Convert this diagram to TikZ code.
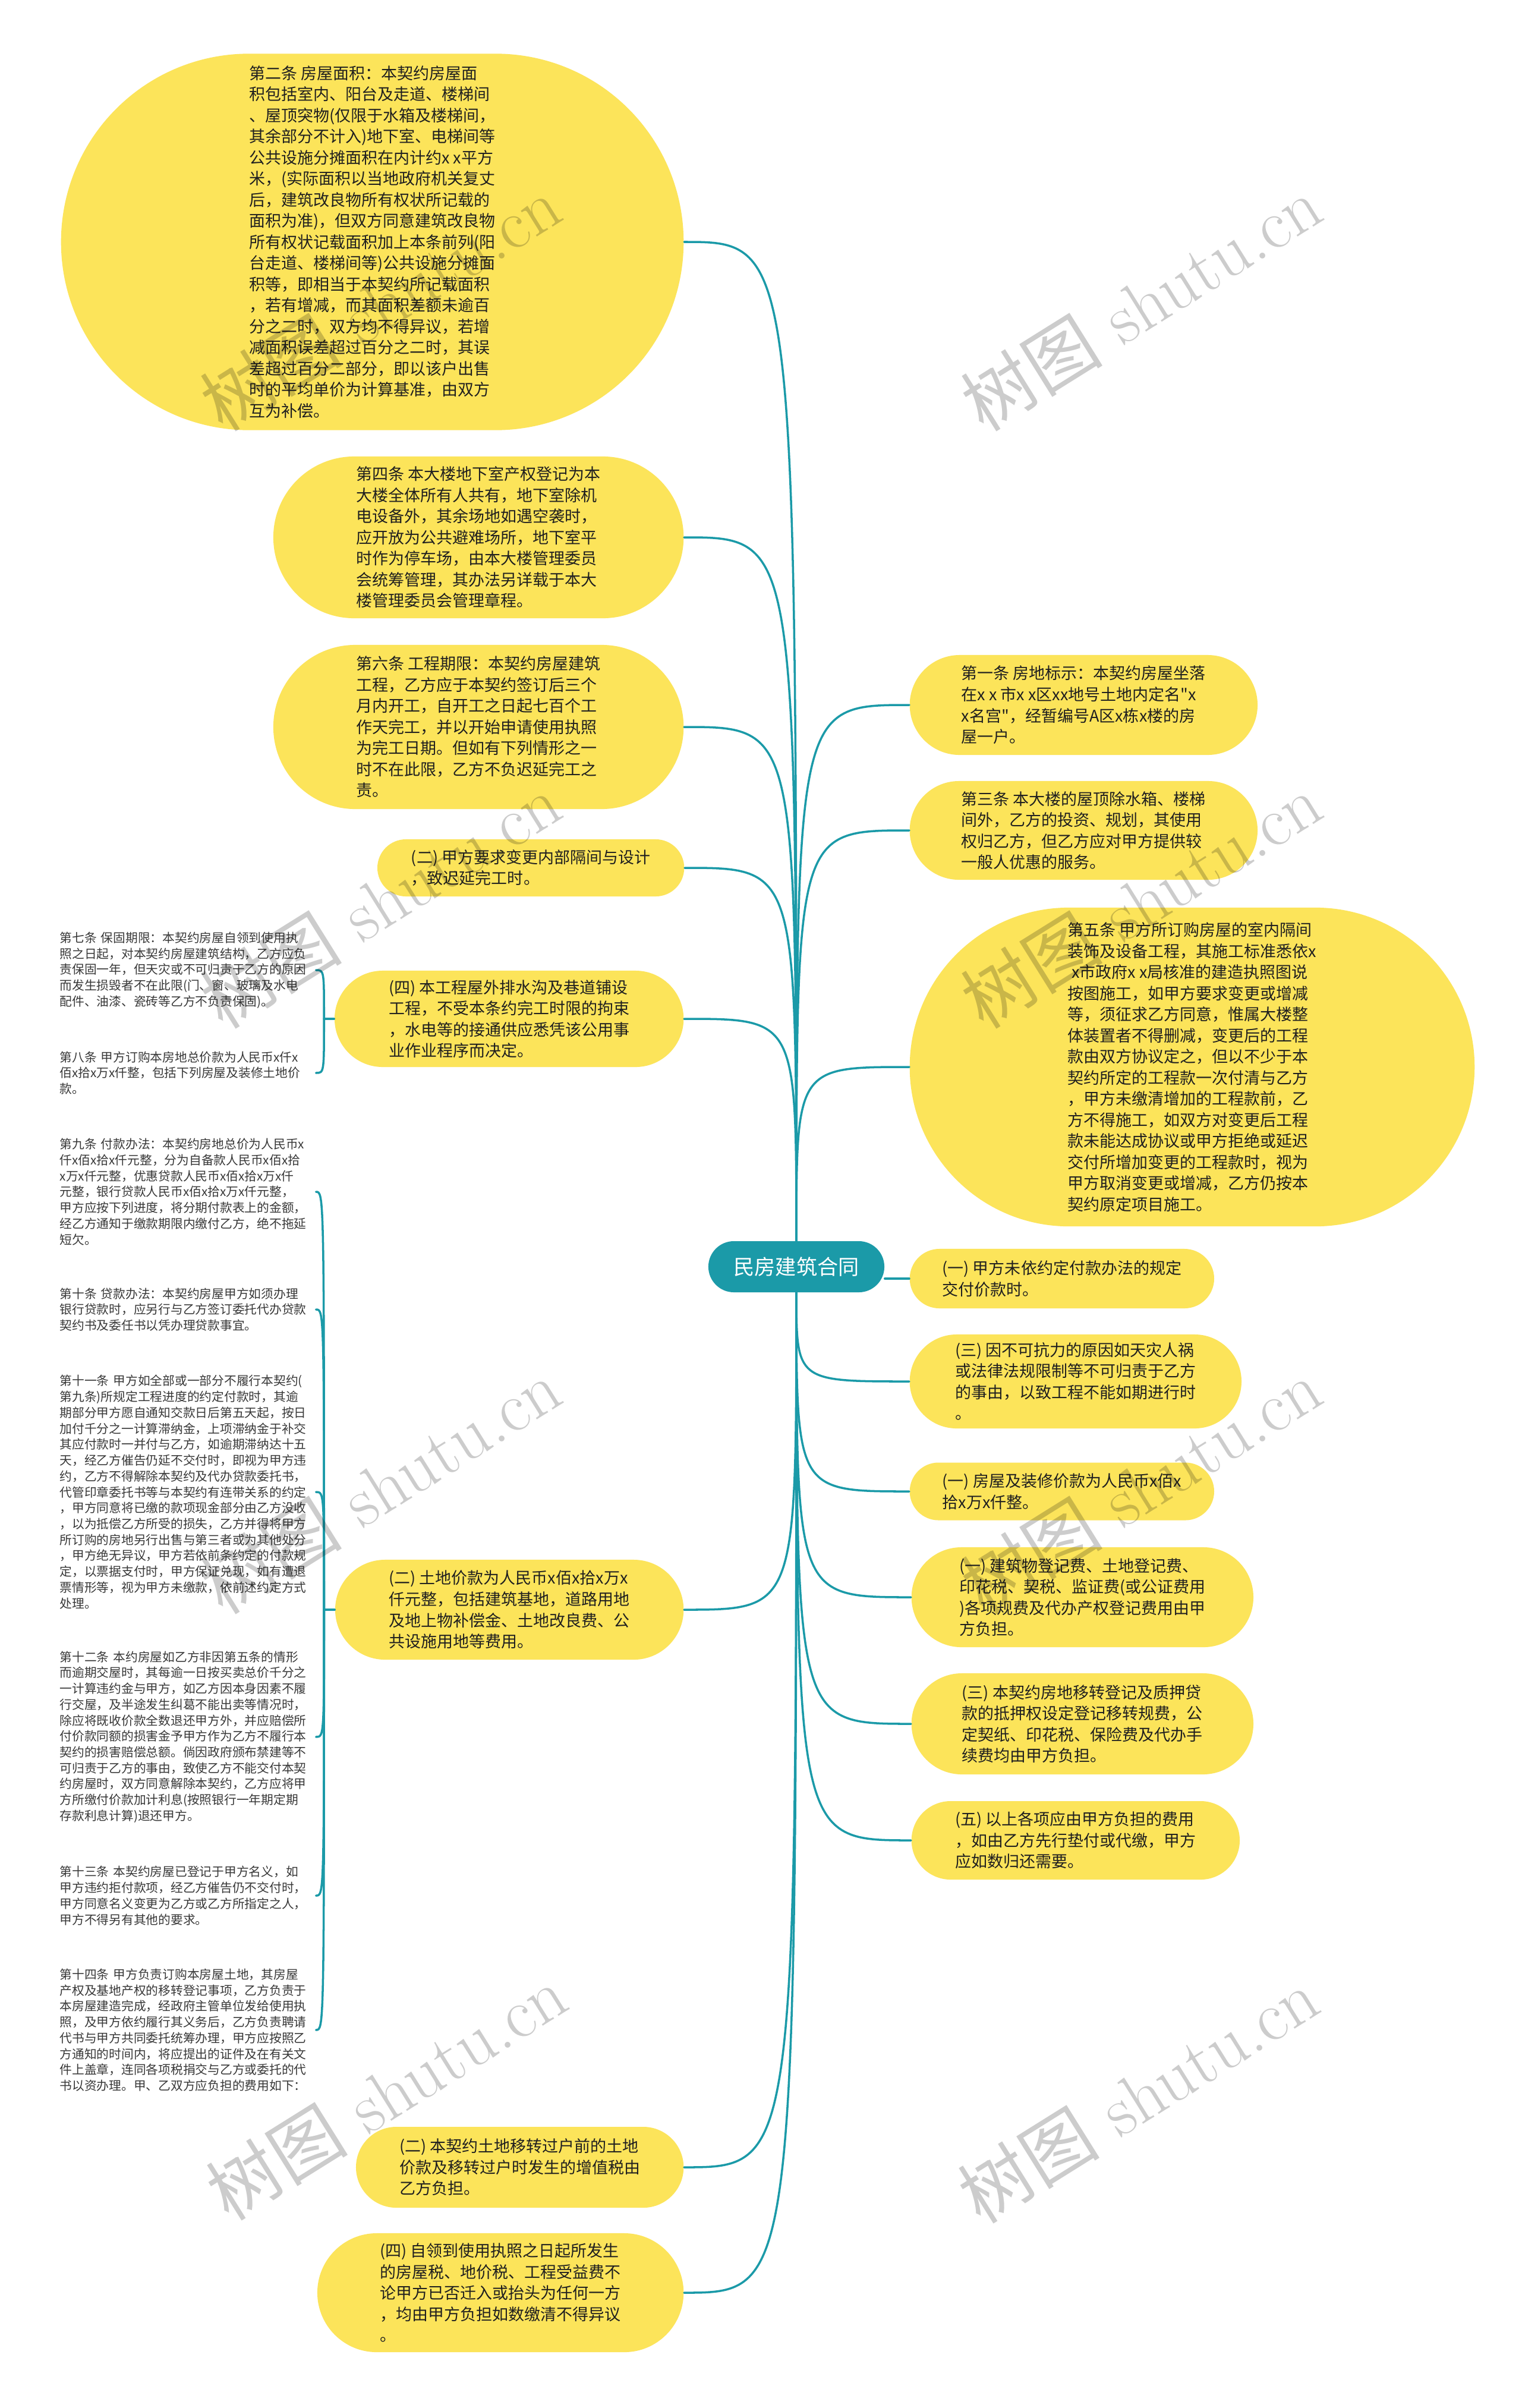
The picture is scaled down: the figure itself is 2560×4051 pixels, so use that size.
\documentclass[tikz,border=0pt]{standalone}
\usepackage{fontspec}
\newfontfamily\cjk{Noto Sans CJK SC}
\usetikzlibrary{shapes.misc}
\definecolor{leafyellow}{HTML}{FCE45A}
\definecolor{trunkteal}{HTML}{1B9AA8}

\begin{document}
\begin{tikzpicture}[x=0.01cm,y=-0.01cm,line cap=round,line join=round,
    leaf/.style={shape=rounded rectangle,fill=leafyellow,inner sep=0pt,align=left,
      text=black!88,font=\cjk\fontsize{7.68pt}{10.1pt}\selectfont},
    lleaf/.style={leaf,anchor=east},
    rleaf/.style={leaf,anchor=west},
    note/.style={anchor=west,inner sep=0pt,text width=4.3cm,align=left,
      text=black!78,font=\cjk\fontsize{5.9pt}{7.6pt}\selectfont},
    link/.style={draw=trunkteal,line width=1pt},
    wmark/.style={rotate=32,text=black,opacity=0.2,font=\fontsize{34pt}{40pt}\selectfont}]
  \fill[white] (0,0) rectangle (2560,4051);
  \useasboundingbox (0,0) rectangle (2560,4051);

  \node[shape=rounded rectangle,fill=trunkteal,text=white,inner sep=0pt,
    minimum width=2.96cm,minimum height=0.86cm,
    font=\cjk\fontsize{10pt}{12pt}\selectfont] (contract) at (1340,2131) {民房建筑合同};

  \node[lleaf,minimum width=10.47cm,minimum height=6.33cm] (area) at (1151,407)
    {第二条 房屋面积：本契约房屋面\\积包括室内、阳台及走道、楼梯间\\、屋顶突物(仅限于水箱及楼梯间，\\其余部分不计入)地下室、电梯间等\\公共设施分摊面积在内计约x x平方\\米，(实际面积以当地政府机关复丈\\后，建筑改良物所有权状所记载的\\面积为准)，但双方同意建筑改良物\\所有权状记载面积加上本条前列(阳\\台走道、楼梯间等)公共设施分摊面\\积等，即相当于本契约所记载面积\\，若有增减，而其面积差额未逾百\\分之二时，双方均不得异议，若增\\减面积误差超过百分之二时，其误\\差超过百分二部分，即以该户出售\\时的平均单价为计算基准，由双方\\互为补偿。};
  \node[lleaf,minimum width=6.9cm,minimum height=2.72cm] (basement) at (1151,904)
    {第四条 本大楼地下室产权登记为本\\大楼全体所有人共有，地下室除机\\电设备外，其余场地如遇空袭时，\\应开放为公共避难场所，地下室平\\时作为停车场，由本大楼管理委员\\会统筹管理，其办法另详载于本大\\楼管理委员会管理章程。};
  \node[lleaf,minimum width=6.9cm,minimum height=2.76cm] (period) at (1151,1223)
    {第六条 工程期限：本契约房屋建筑\\工程，乙方应于本契约签订后三个\\月内开工，自开工之日起七百个工\\作天完工，并以开始申请使用执照\\为完工日期。但如有下列情形之一\\时不在此限，乙方不负迟延完工之\\责。};
  \node[lleaf,minimum width=5.16cm,minimum height=0.96cm] (change) at (1152,1460)
    {(二) 甲方要求变更内部隔间与设计\\，致迟延完工时。};
  \node[lleaf,minimum width=5.87cm,minimum height=1.62cm] (drain) at (1151,1714)
    {(四) 本工程屋外排水沟及巷道铺设\\工程，不受本条约完工时限的拘束\\，水电等的接通供应悉凭该公用事\\业作业程序而决定。};
  \node[lleaf,minimum width=5.86cm,minimum height=1.68cm] (landprice) at (1151,2708)
    {(二) 土地价款为人民币x佰x拾x万x\\仟元整，包括建筑基地，道路用地\\及地上物补偿金、土地改良费、公\\共设施用地等费用。};
  \node[lleaf,minimum width=5.51cm,minimum height=1.36cm] (landtax) at (1151,3646)
    {(二) 本契约土地移转过户前的土地\\价款及移转过户时发生的增值税由\\乙方负担。};
  \node[lleaf,minimum width=6.16cm,minimum height=2cm] (housetax) at (1151,3857)
    {(四) 自领到使用执照之日起所发生\\的房屋税、地价税、工程受益费不\\论甲方已否迁入或抬头为任何一方\\，均由甲方负担如数缴清不得异议\\。};

  \node[rleaf,minimum width=5.85cm,minimum height=1.68cm] (site) at (1530,1186)
    {第一条 房地标示：本契约房屋坐落\\在x x 市x x区xx地号土地内定名"x\\x名宫"，经暂编号A区x栋x楼的房\\屋一户。};
  \node[rleaf,minimum width=5.85cm,minimum height=1.66cm] (roof) at (1530,1397)
    {第三条 本大楼的屋顶除水箱、楼梯\\间外，乙方的投资、规划，其使用\\权归乙方，但乙方应对甲方提供较\\一般人优惠的服务。};
  \node[rleaf,minimum width=9.5cm,minimum height=5.36cm] (decor) at (1530,1795)
    {第五条 甲方所订购房屋的室内隔间\\装饰及设备工程，其施工标准悉依x\\\hspace*{0.25em}x市政府x x局核准的建造执照图说\\按图施工，如甲方要求变更或增减\\等，须征求乙方同意，惟属大楼整\\体装置者不得删减，变更后的工程\\款由双方协议定之，但以不少于本\\契约所定的工程款一次付清与乙方\\，甲方未缴清增加的工程款前，乙\\方不得施工，如双方对变更后工程\\款未能达成协议或甲方拒绝或延迟\\交付所增加变更的工程款时，视为\\甲方取消变更或增减，乙方仍按本\\契约原定项目施工。};
  \node[rleaf,minimum width=5.12cm,minimum height=1cm] (latepay) at (1530,2151)
    {(一) 甲方未依约定付款办法的规定\\交付价款时。};
  \node[rleaf,minimum width=5.58cm,minimum height=1.58cm] (force) at (1530,2324)
    {(三) 因不可抗力的原因如天灾人祸\\或法律法规限制等不可归责于乙方\\的事由，以致工程不能如期进行时\\。};
  \node[rleaf,minimum width=5.12cm,minimum height=0.97cm] (price) at (1530,2509)
    {(一) 房屋及装修价款为人民币x佰x\\拾x万x仟整。};
  \node[rleaf,minimum width=5.75cm,minimum height=1.68cm] (regfee) at (1533,2687)
    {(一) 建筑物登记费、土地登记费、\\印花税、契税、监证费(或公证费用\\)各项规费及代办产权登记费用由甲\\方负担。};
  \node[rleaf,minimum width=5.75cm,minimum height=1.7cm] (mortgage) at (1533,2900)
    {(三) 本契约房地移转登记及质押贷\\款的抵押权设定登记移转规费，公\\定契纸、印花税、保险费及代办手\\续费均由甲方负担。};
  \node[rleaf,minimum width=5.52cm,minimum height=1.32cm] (advance) at (1533,3096)
    {(五) 以上各项应由甲方负担的费用\\，如由乙方先行垫付或代缴，甲方\\应如数归还需要。};

  \node[note] (warranty) at (100,1632)
    {第七条 保固期限：本契约房屋自领到使用执\\照之日起，对本契约房屋建筑结构，乙方应负\\责保固一年，但天灾或不可归责于乙方的原因\\而发生损毁者不在此限(门、窗、玻璃及水电\\配件、油漆、瓷砖等乙方不负责保固)。};
  \node[note] (total) at (100,1805)
    {第八条 甲方订购本房地总价款为人民币x仟x\\佰x拾x万x仟整，包括下列房屋及装修土地价\\款。};
  \node[note] (payment) at (100,2005)
    {第九条 付款办法：本契约房地总价为人民币x\\仟x佰x拾x仟元整，分为自备款人民币x佰x拾\\x万x仟元整，优惠贷款人民币x佰x拾x万x仟\\元整，银行贷款人民币x佰x拾x万x仟元整，\\甲方应按下列进度，将分期付款表上的金额，\\经乙方通知于缴款期限内缴付乙方，绝不拖延\\短欠。};
  \node[note] (loan) at (100,2203)
    {第十条 贷款办法：本契约房屋甲方如须办理\\银行贷款时，应另行与乙方签订委托代办贷款\\契约书及委任书以凭办理贷款事宜。};
  \node[note] (default) at (100,2510)
    {第十一条 甲方如全部或一部分不履行本契约(\\第九条)所规定工程进度的约定付款时，其逾\\期部分甲方愿自通知交款日后第五天起，按日\\加付千分之一计算滞纳金，上项滞纳金于补交\\其应付款时一并付与乙方，如逾期滞纳达十五\\天，经乙方催告仍延不交付时，即视为甲方违\\约，乙方不得解除本契约及代办贷款委托书，\\代管印章委托书等与本契约有连带关系的约定\\，甲方同意将已缴的款项现金部分由乙方没收\\，以为抵偿乙方所受的损失，乙方并得将甲方\\所订购的房地另行出售与第三者或为其他处分\\，甲方绝无异议，甲方若依前条约定的付款规\\定，以票据支付时，甲方保证兑现，如有遭退\\票情形等，视为甲方未缴款，依前述约定方式\\处理。};
  \node[note] (delay) at (100,2922)
    {第十二条 本约房屋如乙方非因第五条的情形\\而逾期交屋时，其每逾一日按买卖总价千分之\\一计算违约金与甲方，如乙方因本身因素不履\\行交屋，及半途发生纠葛不能出卖等情况时，\\除应将既收价款全数退还甲方外，并应赔偿所\\付价款同额的损害金予甲方作为乙方不履行本\\契约的损害赔偿总额。倘因政府颁布禁建等不\\可归责于乙方的事由，致使乙方不能交付本契\\约房屋时，双方同意解除本契约，乙方应将甲\\方所缴付价款加计利息(按照银行一年期定期\\存款利息计算)退还甲方。};
  \node[note] (title) at (100,3189)
    {第十三条 本契约房屋已登记于甲方名义，如\\甲方违约拒付款项，经乙方催告仍不交付时，\\甲方同意名义变更为乙方或乙方所指定之人，\\甲方不得另有其他的要求。};
  \node[note] (transfer) at (100,3415)
    {第十四条 甲方负责订购本房屋土地，其房屋\\产权及基地产权的移转登记事项，乙方负责于\\本房屋建造完成，经政府主管单位发给使用执\\照，及甲方依约履行其义务后，乙方负责聘请\\代书与甲方共同委托统筹办理，甲方应按照乙\\方通知的时间内，将应提出的证件及在有关文\\件上盖章，连同各项税捐交与乙方或委托的代\\书以资办理。甲、乙双方应负担的费用如下：};

  \foreach \n in {area,basement,period,change,drain}
    \draw[link] (contract.north) .. controls (contract.north |- \n.east) .. (\n.east);
  \foreach \n in {landprice,landtax,housetax}
    \draw[link] (contract.south) .. controls (contract.south |- \n.east) .. (\n.east);
  \foreach \n in {site,roof,decor}
    \draw[link] (contract.north) .. controls (contract.north |- \n.west) .. (\n.west);
  \draw[link] (latepay.west -| contract.east) -- (latepay.west);
  \foreach \n in {force,price,regfee,mortgage,advance}
    \draw[link] (contract.south) .. controls (contract.south |- \n.west) .. (\n.west);

  \coordinate (dj) at ([xshift=-0.17cm]drain.west);
  \draw[link] (drain.west) -- (dj);
  \foreach \n in {warranty,total}
    \draw[link] (dj) .. controls (dj |- \n.east) .. (\n.east);
  \coordinate (lj) at ([xshift=-0.18cm]landprice.west);
  \draw[link] (landprice.west) -- (lj);
  \foreach \n in {payment,loan,default,delay,title,transfer}
    \draw[link] (lj) .. controls (lj |- \n.east) .. (\n.east);

  \foreach \wx/\wy [count=\i] in {640/510,1920/510,640/1515,1920/1515,640/2500,1920/2500,650/3520,1915/3525}
    \node[wmark] (wm\i) at (\wx,\wy) {{\cjk 树图} shutu.cn};
\end{tikzpicture}
\end{document}
